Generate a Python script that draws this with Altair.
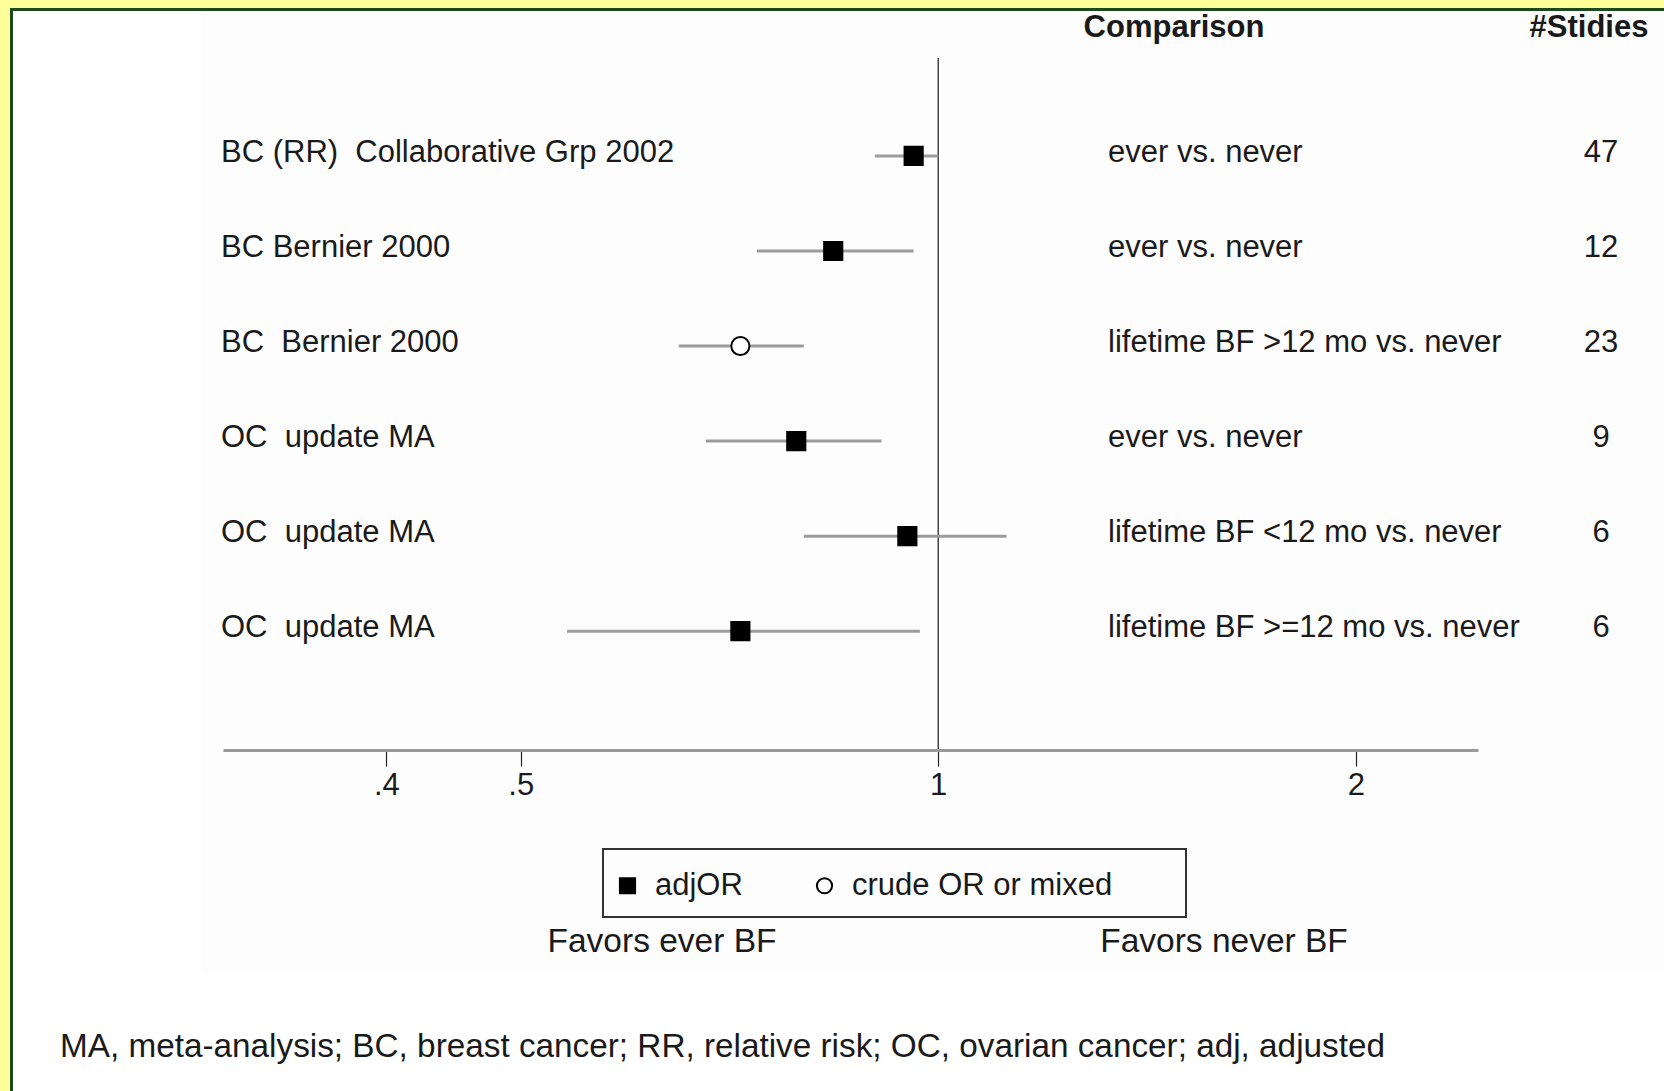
import altair as alt
import pandas as pd

# Study rows, top to bottom
rows = [1, 2, 3, 4, 5, 6]
labels = [
    "BC (RR)\u00a0 Collaborative Grp 2002",
    "BC Bernier 2000",
    "BC\u00a0 Bernier 2000",
    "OC\u00a0 update MA",
    "OC\u00a0 update MA",
    "OC\u00a0 update MA",
]
comparisons = [
    "ever vs. never",
    "ever vs. never",
    "lifetime BF >12 mo vs. never",
    "ever vs. never",
    "lifetime BF <12 mo vs. never",
    "lifetime BF >=12 mo vs. never",
]
n_studies = [47, 12, 23, 9, 6, 6]
estimate = [0.96, 0.84, 0.72, 0.79, 0.95, 0.72]
ci_low = [0.90, 0.74, 0.65, 0.68, 0.80, 0.54]
ci_high = [1.00, 0.96, 0.80, 0.91, 1.12, 0.97]
est_type = ["adjOR", "adjOR", "crude OR or mixed", "adjOR", "adjOR", "adjOR"]

type_order = ["adjOR", "crude OR or mixed"]
tick_values = [0.4, 0.5, 1, 2]

df = pd.DataFrame({
    "row": rows,
    "label": labels,
    "comparison": comparisons,
    "n": n_studies,
    "est": estimate,
    "lo": ci_low,
    "hi": ci_high,
    "type": est_type,
})

FONT = "Liberation Sans"
TXT = "#1a1a1a"
FS = 31

PLOT_W, PLOT_H = 1255, 692
PAD_L, PAD_T = 223, 58

one = pd.DataFrame({"k": [0]})

x_scale = alt.Scale(type="log", domain=[0.305, 2.45], nice=False, zero=False)
# row 1 at the top; rows evenly stacked downward
y_scale = alt.Scale(domain=[-0.03, 7.25], reverse=True, nice=False, zero=False)

X = alt.X("est:Q", scale=x_scale,
          axis=alt.Axis(values=tick_values, title=None, grid=False, zindex=2,
                        labelExpr="replace(datum.label, '0.', '.')",
                        format="~g", tickSize=16, tickColor="#222",
                        tickWidth=1.2, domainColor="#9a9a9a", domainWidth=3,
                        labelFontSize=FS, labelFont=FONT, labelColor=TXT,
                        labelPadding=4, labelFlush=False))
Y = alt.Y("row:Q", scale=y_scale, axis=None)

# white sheet with dark-green frame over the yellow page
sheet = alt.Chart(one).mark_rect(fill="white", stroke="#1d4a1d", strokeWidth=3).encode(
    x=alt.value(-PAD_L + 11.5), x2=alt.value(PLOT_W + 300),
    y=alt.value(-PAD_T + 9.5), y2=alt.value(PLOT_H + 400),
)
panel = alt.Chart(one).mark_rect(fill="#fdfdfd").encode(
    x=alt.value(-21), x2=alt.value(PLOT_W + 250),
    y=alt.value(-46), y2=alt.value(913),
)

null_line = alt.Chart(one).mark_rule(color="#444", strokeWidth=1.5).encode(
    x=alt.datum(1, scale=x_scale)
)

base = alt.Chart(df)

ci = base.mark_rule(color="#9c9c9c", strokeWidth=3).encode(
    x=X, x2="hi:Q", y=Y
).transform_calculate(est="datum.lo")

leg = alt.Legend(orient="none", legendX=389, legendY=812, direction="horizontal",
                 title=None, labelFontSize=FS, labelFont=FONT, labelColor=TXT,
                 labelLimit=500, symbolSize=230, symbolStrokeWidth=2,
                 labelOffset=12, columnPadding=66, padding=0)

points = base.mark_point(opacity=1, stroke="black", strokeWidth=2, size=330).encode(
    x=alt.X("est:Q", scale=x_scale),
    y=Y,
    shape=alt.Shape("type:N", scale=alt.Scale(domain=type_order, range=["square", "circle"]), legend=leg),
    fill=alt.Fill("type:N", scale=alt.Scale(domain=type_order, range=["black", "white"]), legend=leg),
)

label_txt = base.mark_text(align="left", baseline="middle", font=FONT, fontSize=FS, color=TXT, dy=-3).encode(
    x=alt.value(-2), y=Y, text="label:N"
)
comp_txt = base.mark_text(align="left", baseline="middle", font=FONT, fontSize=FS, color=TXT, dy=-3).encode(
    x=alt.value(885), y=Y, text="comparison:N"
)
n_txt = base.mark_text(align="center", baseline="middle", font=FONT, fontSize=FS, color=TXT, dy=-3).encode(
    x=alt.value(1378), y=Y, text="n:Q"
)

def note(text, x, y, size=FS, weight="normal", align="center"):
    return alt.Chart(one).mark_text(
        text=text, align=align, baseline="middle", font=FONT,
        fontSize=size, fontWeight=weight, color=TXT
    ).encode(x=alt.value(x), y=alt.value(y))

head_cmp = note("Comparison", 951, -30, weight="bold")
head_n = note("#Stidies", 1366, -30, weight="bold")
fav_ever = note("Favors ever BF", 439, 884, size=33.5)
fav_never = note("Favors never BF", 1001, 884, size=33.5)
footnote = note("MA, meta-analysis; BC, breast cancer; RR, relative risk; OC, ovarian cancer; adj, adjusted",
                -163, 989, size=33.3, align="left")

legend_box = alt.Chart(one).mark_rect(fillOpacity=0, stroke="#333", strokeWidth=2).encode(
    x=alt.value(380), x2=alt.value(963), y=alt.value(791), y2=alt.value(859)
)

chart = alt.layer(
    sheet, panel, null_line, ci, points, label_txt, comp_txt, n_txt,
    head_cmp, head_n, fav_ever, fav_never, footnote, legend_box,
).properties(
    width=PLOT_W, height=PLOT_H,
    autosize=alt.AutoSizeParams(type="none"),
    padding={"left": PAD_L, "top": PAD_T, "right": 1664 - PAD_L - PLOT_W, "bottom": 1091 - PAD_T - PLOT_H},
).configure(
    background="#ffff99",
).configure_view(
    stroke=None,
)

chart.save("out.html", embed_options={"renderer": "svg", "actions": False})
